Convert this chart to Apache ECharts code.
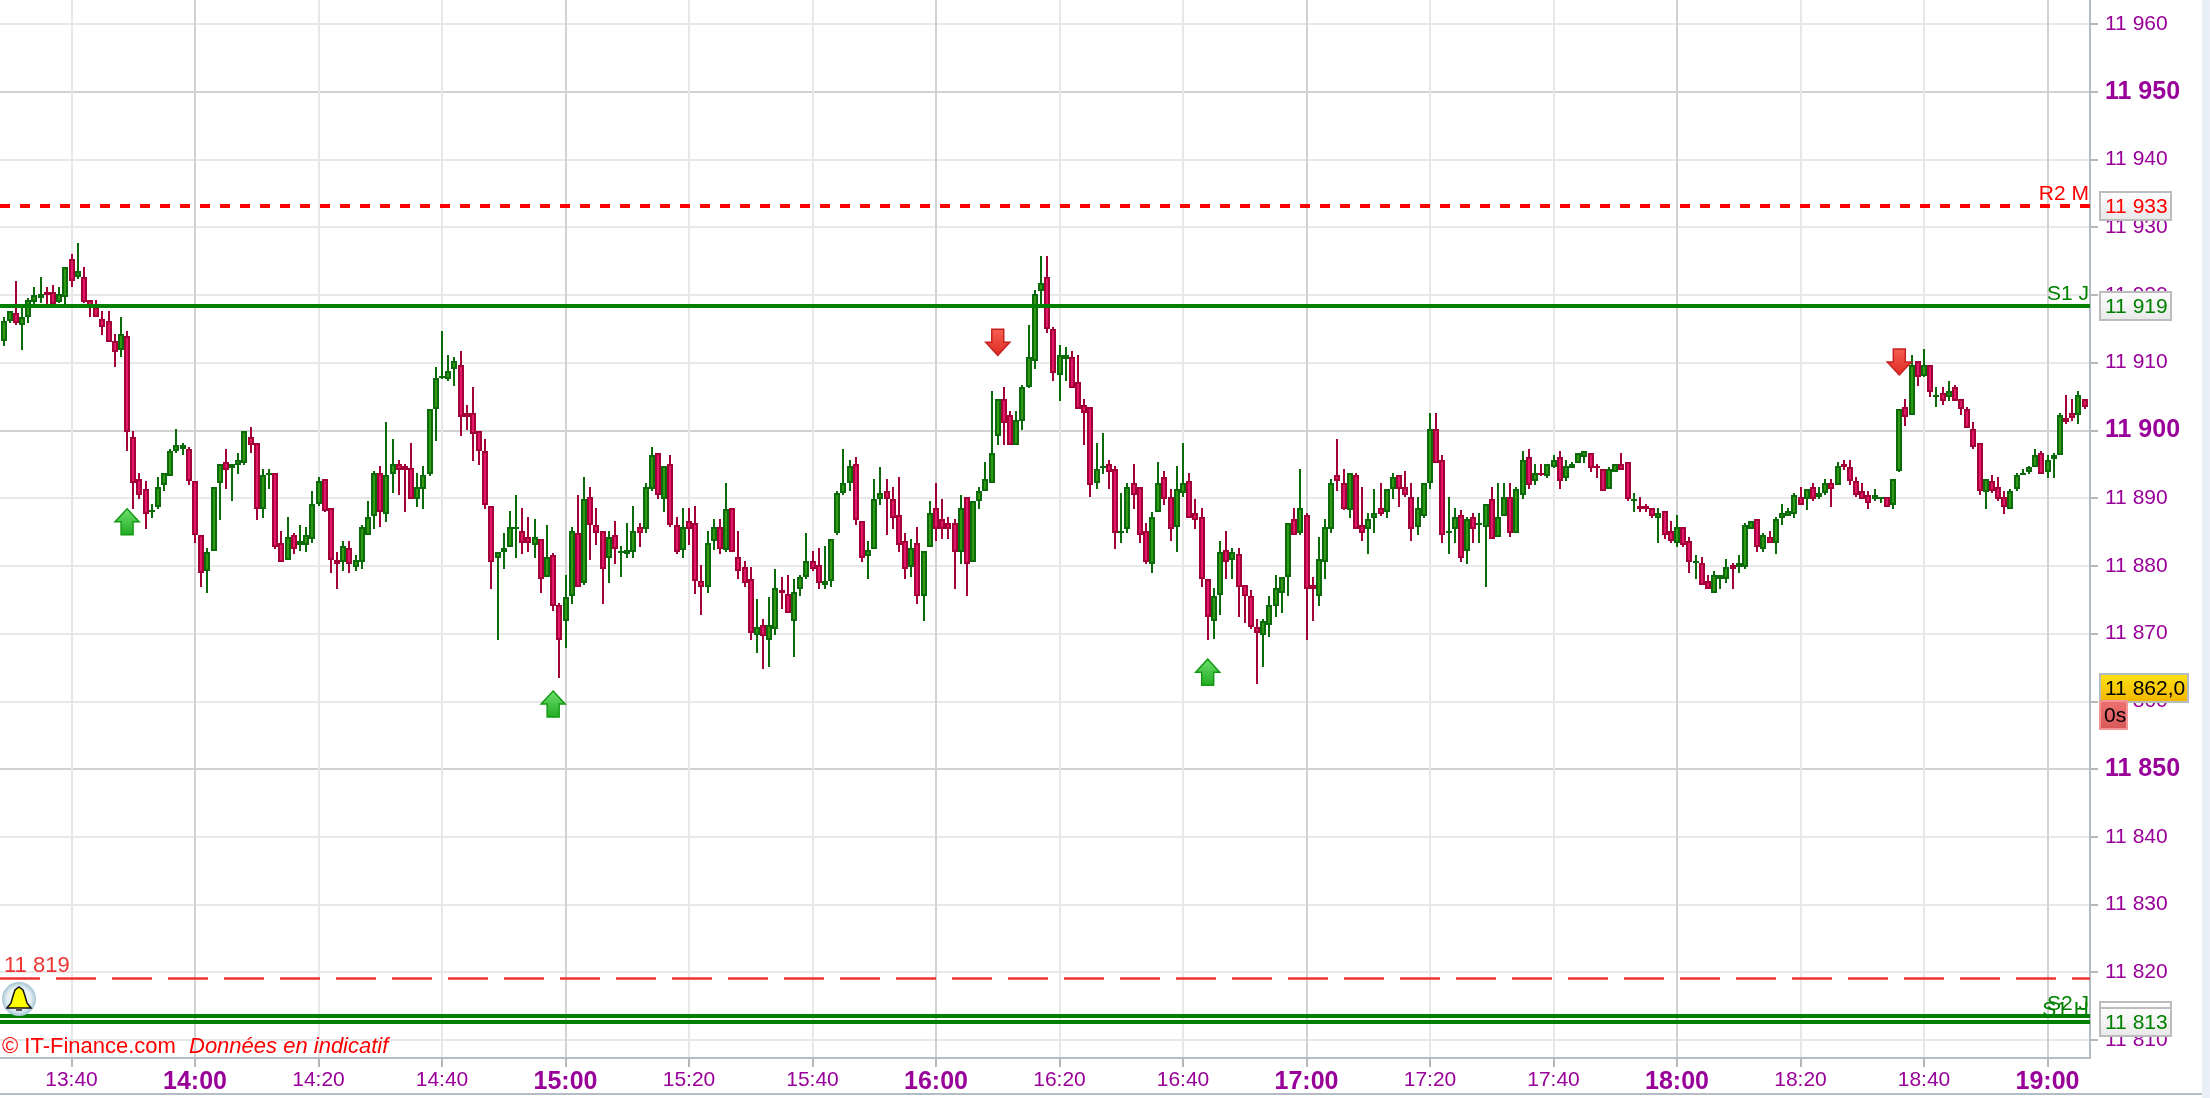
<!DOCTYPE html>
<html><head><meta charset="utf-8">
<style>html,body{margin:0;padding:0;background:#fff}#c{width:2210px;height:1098px}</style>
<script src="https://cdn.jsdelivr.net/npm/echarts@6/dist/echarts.min.js"></script>
</head><body><div id="c"></div>
<script>
const firstCandle = '13:29';
const timeTicks = ['13:40','14:00','14:20','14:40','15:00','15:20','15:40','16:00','16:20','16:40','17:00','17:20','17:40','18:00','18:20','18:40','19:00'];
const priceTicks = [11810,11820,11830,11840,11850,11860,11870,11880,11890,11900,11910,11920,11930,11940,11950,11960];
// one row per minute: open, close, low, high
const candles = [
[11913.2,11916.1,11912.4,11916.7],[11916.1,11917.6,11915.9,11917.6],[11917.3,11915.8,11915.6,11922],[11915.6,11916.7,11911.8,11918.2],[11916.8,11919.3,11915.9,11919.6],[11918.9,11920,11918,11921.1],[11919.5,11920.2,11918.8,11922.6],[11920.5,11920,11918,11921.1],[11920.5,11918.7,11918.5,11921.4],[11918.9,11920.2,11918.8,11921.1],
[11919.7,11924.1,11918.6,11924.1],[11925.3,11922.1,11921.2,11926.1],[11922.7,11923.5,11922.4,11927.6],[11922.6,11918.9,11918.8,11924.1],[11919.3,11918.2,11916.8,11919.3],[11918.2,11916.8,11916.8,11919.3],[11916.4,11915.3,11914.1,11917.6],[11916.1,11913,11913,11917.6],[11913.2,11911.5,11909.4,11914.3],[11911.8,11914.3,11910.9,11916.7],
[11914,11899.7,11897,11914.6],[11899,11892.3,11888.4,11899.9],[11892.8,11890.5,11889.9,11893.7],[11891.3,11887.6,11885.5,11892.5],[11887.9,11888.3,11887,11889.2],[11888.7,11891.6,11888.4,11893.1],[11892,11893.7,11891.1,11893.7],[11893.2,11896.9,11893.2,11897.2],[11897,11897.8,11896.7,11900.2],[11897.3,11897.8,11896.4,11898.1],
[11897.2,11892.6,11892,11897.5],[11892.5,11884.6,11883.4,11892.5],[11884.5,11879,11876.9,11884.5],[11879.3,11882.1,11876,11882.7],[11882.2,11891.6,11882.2,11891.6],[11892.3,11895.1,11886.7,11895.1],[11895.4,11894.1,11891.4,11897.2],[11894.4,11895.1,11889.6,11895.1],[11894.9,11895.7,11893.5,11896.6],[11895.2,11899.9,11894.9,11899.9],
[11899,11897.9,11896.7,11900.5],[11898.1,11888.4,11886.7,11898.1],[11888.4,11893.4,11887,11894.3],[11893.4,11893.7,11891.4,11894.3],[11893.7,11882.8,11882.5,11893.7],[11883.3,11880.5,11880.5,11885.1],[11880.8,11884.2,11880.8,11887.2],[11884.5,11882.5,11881.7,11884.8],[11883.1,11883.6,11882.2,11886],[11883.1,11884.5,11882,11885.7],
[11884,11889.2,11883.4,11891],[11889.2,11892.5,11888.9,11893.1],[11892.8,11888.1,11887.9,11892.8],[11888.6,11880.8,11879,11888.6],[11880.8,11880.2,11876.6,11882.1],[11880.5,11883,11879.3,11883.6],[11882.7,11880.2,11879,11883.6],[11879.9,11880.8,11879.3,11881.6],[11880.5,11885.7,11879.6,11886],[11884.6,11887.2,11884.6,11889.5],
[11887.3,11893.7,11885.5,11894],[11893.7,11887.9,11885.8,11894.8],[11887.6,11893.4,11886.4,11901.3],[11893.5,11895.1,11890.8,11898.7],[11895.1,11894.1,11890.5,11895.7],[11894.8,11894.1,11887.9,11895.1],[11894.5,11889.9,11889.9,11898.1],[11889.9,11891.6,11888.7,11893.7],[11891.4,11893.4,11888.4,11894.8],[11893.5,11903.1,11893.2,11903.1],
[11903.2,11907.8,11898.5,11909.3],[11907.8,11908.1,11907.6,11914.6],[11907.6,11908.7,11907.3,11911.1],[11909.1,11910.2,11906.5,11910.8],[11909.6,11902,11899.1,11911.7],[11902.5,11902,11900,11903.7],[11902.5,11899.4,11895.5,11906.4],[11899.9,11897,11894.9,11899.9],[11896.9,11889,11888.4,11898.7],[11888.9,11880.5,11876.6,11888.9],[11881.1,11882.1,11869,11882.1],
[11882,11882.7,11879.6,11884.8],[11882.8,11885.7,11882.8,11888.1],[11885.5,11885.7,11881.1,11890.4],[11885.1,11883.4,11881.7,11888.6],[11884.2,11883.4,11882,11887.2],[11883.1,11884.2,11881.1,11886.9],[11883.9,11878.1,11876,11883.9],[11878.4,11881.3,11878.4,11886],[11881.6,11874,11873.4,11881.9],[11874.2,11869,11863.4,11874.5],
[11871.9,11875.4,11867.8,11878.6],[11875.5,11885.1,11874.3,11885.7],[11884.8,11876.9,11876.9,11890.4],[11877.5,11889.8,11877.2,11893.1],[11890.1,11886.1,11880.8,11891.6],[11886,11884.9,11883.1,11888.6],[11885.1,11879.6,11874.3,11885.1],[11881.1,11884.2,11877.5,11885.1],[11884.5,11882.5,11880.2,11886.6],[11882,11882.2,11878.4,11883],
[11881.7,11882.4,11881.1,11886.3],[11882,11885.1,11881.1,11888.9],[11885.7,11884.9,11882.8,11886.3],[11885.5,11891.6,11884.9,11892.2],[11891.4,11896.3,11891.1,11897.5],[11896.6,11890.5,11889.9,11896.6],[11889.9,11894.8,11887.9,11894.8],[11895.1,11886.1,11885.8,11896.3],[11886,11882,11881.7,11887.2],[11882.3,11885.7,11881.1,11888.6],
[11886.6,11885.5,11883.1,11888.6],[11886.3,11877.8,11875.8,11888.9],[11877.7,11876.9,11872.8,11880.1],[11876.9,11883.3,11876,11885.1],[11883.7,11885.7,11882.3,11886.9],[11885.7,11882.5,11881.7,11886.9],[11882.3,11888.4,11882,11892.2],[11888.6,11882,11882,11888.6],[11881.3,11879.3,11878.1,11885.1],[11879.8,11877.5,11876.9,11880.7],
[11878,11870.1,11869,11879.8],[11869.8,11870.9,11867.2,11875.1],[11871.2,11869.6,11864.8,11872.1],[11869,11871.2,11865.1,11875.4],[11870.7,11876.8,11869.8,11879.5],[11876.5,11876,11873.7,11878.3],[11875.9,11873.1,11873.1,11878.6],[11871.9,11876.2,11866.6,11878],[11876.6,11878.3,11875.5,11878.6],[11878.4,11880.7,11878.1,11884.8],
[11880.7,11879.6,11879.3,11882.2],[11880.1,11877.5,11876.6,11882.7],[11877.2,11877.7,11876.6,11883],[11877.8,11883.9,11876.9,11883.9],[11884.9,11890.7,11884.6,11891],[11890.8,11892.2,11890.5,11897.2],[11892.3,11894.8,11891.1,11895.7],[11895.1,11886.7,11886.1,11896],[11886.6,11881.1,11880.5,11886.6],[11881.4,11882.4,11878.1,11883.6],
[11882.5,11889.8,11882.5,11892.8],[11889.9,11890.7,11889,11894.6],[11891,11889.9,11884.6,11892.8],[11889.8,11887,11885.5,11891.6],[11887.5,11883.1,11882,11893.1],[11883.6,11879.6,11878.1,11884.8],[11879.9,11882.7,11878.4,11883.9],[11883.3,11875.5,11874.3,11885.7],[11875.5,11882.2,11871.9,11882.2],[11882.8,11887.8,11882.8,11889.5],
[11888.6,11885.5,11883.7,11892.2],[11886.9,11885.5,11884,11889.8],[11886.3,11885.5,11884,11887.2],[11886.3,11882,11876.6,11886.9],[11882,11888.6,11880.2,11890.4],[11890.1,11880.2,11875.5,11890.1],[11880.5,11889.5,11880.5,11889.5],[11889.6,11891,11888.4,11891.6],[11891.1,11892.8,11891.1,11895.4],[11892.3,11896.6,11892.3,11905.8],[11899.1,11904.6,11897.9,11904.6],
[11904.6,11901.1,11897.9,11906.4],[11902.2,11897.9,11897.9,11902.8],[11897.9,11901.6,11897.9,11902.8],[11901.4,11906.4,11900.1,11906.7],[11906.4,11910.8,11906.2,11915.5],[11910.3,11920.2,11909.1,11920.8],[11920.6,11921.7,11918,11925.8],[11922.6,11915,11914.4,11925.8],[11914.9,11908.5,11907.3,11915.2],[11908.2,11911.1,11904.4,11912.6],
[11910.6,11911.1,11907.3,11912.3],[11910.8,11906.2,11906.2,11911.7],[11907.2,11903.2,11903.2,11911.1],[11903.7,11902.6,11897.9,11904.6],[11903.4,11892,11890.2,11903.4],[11892.3,11894.3,11891.4,11898.1],[11894.4,11894.8,11893.5,11899.6],[11895.1,11893.8,11891.4,11895.7],[11894.3,11884.9,11882.5,11894.8],[11884.9,11885.1,11883.4,11890.7],
[11885.5,11891.6,11884.9,11892.2],[11892.2,11890.5,11888.4,11895.1],[11891.6,11884.6,11883.4,11891.6],[11885.1,11880.5,11880.2,11886.3],[11880.2,11887.2,11879,11888],[11887.9,11892.2,11887.9,11895.4],[11893.1,11889.9,11889,11894],[11890.1,11885.5,11883.7,11891.3],[11885.8,11891.3,11882,11894.8],[11890.8,11892.2,11890.2,11898.1],
[11892.5,11887,11887,11893.7],[11887.8,11886.7,11885.5,11889.8],[11887.2,11878.1,11876.9,11888.6],[11878,11872.5,11869,11878],[11871.9,11875.6,11869.2,11876.8],[11875.7,11882.1,11872.8,11883.6],[11882.4,11880.5,11878.1,11885.1],[11880.8,11882.1,11878.1,11882.7],[11881.8,11876.9,11872.5,11882.7],[11877.1,11875.5,11871.6,11877.1],
[11875.6,11871,11870.7,11876.5],[11870.9,11870.1,11862.5,11872.1],[11869.8,11871.8,11865.1,11872.1],[11871.3,11874.2,11869.5,11875.6],[11874,11876.8,11872.5,11878.6],[11876,11878.3,11873.1,11878.3],[11878.4,11886.3,11875.5,11886.3],[11886.9,11884.6,11884.6,11888.6],[11884.8,11888.6,11884.5,11894.3],[11887.5,11876.6,11869,11887.8],
[11877.1,11876.6,11871.9,11878.3],[11875.5,11881,11874,11884.2],[11880.5,11885.7,11878.1,11886.9],[11885.5,11892.2,11884.9,11892.8],[11893.4,11892.6,11891.1,11898.7],[11892.2,11888.4,11888.2,11894.3],[11888.2,11893.7,11887,11893.7],[11893.4,11885.5,11885.5,11893.7],[11886,11884.9,11883.7,11891.6],[11885.5,11886.9,11881.7,11887.8],
[11887,11887.8,11884.9,11891.3],[11888.6,11887.6,11887.3,11892.2],[11887.9,11891.3,11887,11891.3],[11891.4,11893.1,11889.9,11893.7],[11893.4,11891.4,11888.7,11893.4],[11891.6,11890.5,11890.2,11894],[11890.1,11885.5,11883.7,11892.2],[11885.8,11888.6,11884.6,11890.1],[11887.3,11892.2,11887,11892.2],[11892.3,11900.2,11891.4,11902.5],
[11900.2,11895.2,11895.2,11902.5],[11895.7,11884.6,11883.4,11896.3],[11884.9,11885.1,11881.7,11890.1],[11885.5,11887.2,11883.4,11888.6],[11887.5,11881.1,11880.5,11888.3],[11882.2,11886.9,11880.2,11887.2],[11887.2,11885.5,11883.4,11887.8],[11886.1,11886.3,11883.4,11887.8],[11885.8,11889.2,11876.9,11889.2],[11889.8,11884,11884,11891.6],[11884.3,11887.2,11884.3,11892.2],
[11887.3,11890.1,11887.3,11892.2],[11890.1,11884.9,11884.3,11892.2],[11884.9,11891.3,11884.9,11891.6],[11890.5,11895.7,11889.9,11896.9],[11896,11892,11891.4,11897.2],[11892.6,11893.7,11892,11895.1],[11893.7,11893.5,11893.2,11895.1],[11893.2,11895.1,11892.9,11895.1],[11894.6,11895.7,11894.4,11896.3],[11896,11892.6,11891.4,11896.9],
[11892.9,11894.8,11892.6,11895.7],[11894.4,11895.1,11894.4,11895.4],[11895.2,11896.6,11895.2,11896.6],[11896.1,11896.9,11895.2,11896.9],[11896.6,11894.4,11893.8,11896.6],[11894.8,11894.4,11892.9,11895.1],[11894.3,11891.1,11891.1,11894.3],[11891.4,11894.3,11891.4,11894.6],[11893.8,11895.1,11893.8,11895.1],[11895.1,11894.1,11894.1,11896.6],
[11895.4,11889.8,11889.6,11895.4],[11889.6,11889.8,11887.9,11890.7],[11888.9,11888.4,11887.9,11890.1],[11888.9,11888.4,11887.9,11889.2],[11888.6,11887.3,11887,11888.6],[11887,11887.8,11883.4,11888.6],[11888.1,11884.6,11884,11888.1],[11885.1,11883.7,11883.4,11886.6],[11883.4,11885.7,11882.8,11887.5],[11885.7,11883.1,11882.8,11885.7],
[11883.6,11880.5,11879,11884.2],[11880.5,11880.7,11878.1,11881.6],[11880.4,11877.2,11877.2,11881.3],[11877.7,11876.6,11876.6,11878.6],[11876,11878.6,11876,11879.2],[11878.1,11878.6,11876.6,11878.6],[11878.1,11879.8,11877.5,11881],[11880.1,11879.6,11876.6,11880.4],[11879.9,11880.4,11879,11881.6],[11879.9,11886,11879.6,11886.3],
[11885.5,11886.6,11885.5,11886.6],[11886.9,11882.8,11882,11886.9],[11882.5,11884.5,11882,11884.8],[11884.2,11883.4,11883.4,11885.1],[11883.4,11886.9,11881.7,11887.2],[11887,11887.8,11886.1,11889.2],[11887.3,11888.1,11887.3,11888.6],[11887.6,11890.4,11887,11890.7],[11890.1,11889,11889,11891.6],[11889.9,11891.3,11888.2,11891.3],
[11891.6,11889.8,11889.6,11892.2],[11890.2,11890.7,11889.9,11891.6],[11890.8,11892.2,11890.5,11892.8],[11892.2,11891.4,11888.7,11892.8],[11892,11894.8,11892,11895.4],[11895.1,11894.6,11894.1,11895.7],[11894.6,11892.6,11892,11895.7],[11892.5,11890.5,11890.2,11893.1],[11891,11889.9,11889.9,11892.2],[11890.4,11889.3,11888.4,11891],
[11889.9,11890.4,11889.6,11891.3],[11889.9,11890.1,11889.3,11890.1],[11890.1,11888.7,11888.7,11890.1],[11889,11892.8,11888.4,11892.8],
[11894,11903.1,11893.8,11903.1],[11903.4,11902,11900.6,11904.6],[11902.3,11909.6,11902.3,11911.1],[11910.2,11907.9,11906.5,11910.2],[11908.1,11909.6,11907.9,11912],[11909.6,11905.6,11905,11909.6],[11904.9,11905.2,11903.5,11906.4],[11905.5,11904.4,11903.8,11906.4],[11905,11905.8,11904.4,11907.3],[11906.4,11904.4,11904.4,11906.7],
[11904.6,11903.2,11902.3,11904.6],[11903.1,11900.3,11900.3,11903.4],[11900.2,11897.5,11897.3,11901.3],[11898.1,11891,11890.5,11898.1],[11890.9,11892.8,11888.4,11892.8],[11892.5,11891,11890.8,11893.4],[11891.6,11889.8,11889.6,11893.1],[11890.1,11888.7,11887.6,11891],[11888.4,11891,11888.4,11891.3],[11891.4,11893.4,11891.1,11893.7],
[11893.5,11893.7,11893.5,11894.3],[11893.8,11894.6,11893.5,11894.8],[11894.6,11896.3,11894.6,11897.2],[11896.6,11893.5,11893.5,11896.9],[11893.8,11895.7,11892.9,11896.3],[11895.8,11896.3,11892.9,11896.6],[11896.4,11902.2,11896.4,11902.5],[11901.9,11901.3,11900.9,11905.2],[11902.5,11901.9,11901.4,11904.6],[11902.3,11905.2,11900.9,11905.8],[11904.6,11903.5,11903.2,11904.6]
];
const buySignalTimes = ['13:49','14:58','16:44'];
const buySignalPrices = [11886.5,11859.6,11864.3];
const sellSignalTimes = ['16:10','18:36'];
const sellSignalPrices = [11913,11910.1];
const levelNames = ['R2 M','S1 J','S2 J','S1 H'];
const levelValues = [11933.1,11918.4,11813.6,11812.7];
const levelBoxes = ['11 933','11 919','11 814','11 813'];
const alertValue = 11819.1;
const alertText = '11 819';
const lastPrice = 11862;
const lastPriceText = '11 862,0';
const countdownText = '0s';

const toMin = s => { const p = s.split(':'); return +p[0] * 60 + +p[1]; };
const font = '"Liberation Sans", Arial, sans-serif';
const PURPLE = '#990099', RED = '#ff0000', GREEN = '#008000', ALERT = '#ee3333';
const xMin = toMin('13:40') - 71.5 / 6.175, xMax = toMin('13:40') + (2090 - 71.5) / 6.175;
const yMax = 11960 + 24 / 6.773, yMin = 11960 - (1058 - 24) / 6.773;
const start = toMin(firstCandle);
const levelStyle = (v, name, color, width, type, extra) => Object.assign({
  yAxis: v, name: name,
  lineStyle: { color: color, width: width, type: type, opacity: 1 },
  label: { show: true, position: 'insideEndTop', formatter: '{b}', color: color, fontSize: 21, fontFamily: font, distance: 1, padding: [0, 0, 0, 0] }
}, extra || {});
const arrowUp = 'path://M12 0 L24 13 L18 13 L18 26 L6 26 L6 13 L0 13 Z';
const arrowDown = 'path://M12 26 L24 13 L18 13 L18 0 L6 0 L6 13 L0 13 Z';
const vgrad = (a, b) => new echarts.graphic.LinearGradient(0, 0, 0, 1, [{ offset: 0, color: a }, { offset: 1, color: b }]);

// Candle drawn crisply from the axes' own scales: wick, dark outer body, bright inner column.
function renderCandle(params, api) {
  const t = api.value(0), o = api.value(1), c = api.value(2), l = api.value(3), h = api.value(4);
  const cx = Math.round(api.coord([t, o])[0]);
  const yO = api.coord([t, o])[1], yC = api.coord([t, c])[1];
  const yL = Math.round(api.coord([t, l])[1]), yH = Math.round(api.coord([t, h])[1]);
  const up = c >= o;
  const dark = up ? '#0b6b0b' : '#a30038', light = up ? '#2f9a12' : '#e5176d';
  const top = Math.round(Math.min(yO, yC));
  const bot = Math.max(Math.round(Math.max(yO, yC)), top + 2);
  const children = [
    { type: 'rect', shape: { x: cx - 1, y: yH, width: 2, height: Math.max(yL - yH, 2) }, style: { fill: dark } },
    { type: 'rect', shape: { x: cx - 3, y: top, width: 6, height: bot - top }, style: { fill: dark } }
  ];
  if (bot - top > 4) children.push({ type: 'rect', shape: { x: cx - 1, y: top + 2, width: 2, height: bot - top - 4 }, style: { fill: light } });
  return { type: 'group', children: children };
}

const chart = echarts.init(document.getElementById('c'), null, { renderer: 'canvas' });
chart.setOption({
  animation: false,
  backgroundColor: '#ffffff',
  grid: { left: 0, top: 0, right: 120, bottom: 40, containLabel: false },
  xAxis: {
    type: 'value', min: xMin, max: xMax, splitNumber: 17,
    axisLine: { onZero: false, lineStyle: { color: '#b4bcc4', width: 2 } },
    axisTick: { length: 9, lineStyle: { color: '#b8b8b8', width: 2 }, customValues: timeTicks.map(toMin) },
    axisLabel: {
      customValues: timeTicks.map(toMin), margin: 12, hideOverlap: false,
      formatter: v => {
        const h = Math.floor(v / 60), m = v % 60, s = h + ':' + String(m).padStart(2, '0');
        return m === 0 ? '{b|' + s + '}' : '{n|' + s + '}';
      },
      rich: {
        n: { color: PURPLE, fontSize: 21, fontFamily: font },
        b: { color: PURPLE, fontSize: 25, fontWeight: 'bold', fontFamily: font }
      }
    },
    splitLine: { show: true, lineStyle: { color: ['#e8e8e8', '#d2d2d2', '#e8e8e8'], width: 2 } }
  },
  yAxis: {
    type: 'value', position: 'right', min: yMin, max: yMax, splitNumber: 16, scale: true,
    axisLine: { show: true, onZero: false, lineStyle: { color: '#b4bcc4', width: 2 } },
    axisTick: { show: true, length: 8, lineStyle: { color: '#b8b8b8', width: 2 }, customValues: priceTicks },
    axisLabel: {
      customValues: priceTicks, margin: 15, hideOverlap: false,
      formatter: v => {
        const s = String(v).slice(0, 2) + ' ' + String(v).slice(2);
        return v % 50 === 0 ? '{b|' + s + '}' : '{n|' + s + '}';
      },
      rich: {
        n: { color: PURPLE, fontSize: 21, fontFamily: font },
        b: { color: PURPLE, fontSize: 25, fontWeight: 'bold', fontFamily: font }
      }
    },
    splitLine: { show: true, lineStyle: { color: ['#e8e8e8', '#e8e8e8', '#e8e8e8', '#e8e8e8', '#d2d2d2'], width: 2 } }
  },
  series: [
    {
      type: 'custom', name: 'DAX', coordinateSystem: 'cartesian2d', renderItem: renderCandle, silent: true,
      encode: { x: 0, y: [1, 2, 3, 4] },
      data: candles.map((c, i) => [start + i, c[0], c[1], c[2], c[3]]),
      markLine: {
        silent: true, symbol: 'none', animation: false, precision: 4,
        data: [
          levelStyle(levelValues[0], levelNames[0], RED, 4, [10, 10]),
          levelStyle(levelValues[1], levelNames[1], GREEN, 4, 'solid'),
          levelStyle(levelValues[2], levelNames[2], GREEN, 4, 'solid'),
          levelStyle(levelValues[3], levelNames[3], GREEN, 4, 'solid'),
          { yAxis: alertValue, name: alertText, lineStyle: { color: ALERT, width: 2.5, type: [40, 16], opacity: 1 },
            label: { show: true, position: 'insideStartTop', formatter: '{b}', color: ALERT, fontSize: 22, fontFamily: font, distance: 1, padding: [0, 0, 0, 3] } }
        ]
      }
    },
    {
      type: 'scatter', name: 'buy', z: 5, symbol: arrowUp, symbolSize: [24, 26],
      data: buySignalTimes.map((t, i) => [toMin(t), buySignalPrices[i]]),
      itemStyle: { color: vgrad('#70e070', '#22aa22'), borderColor: '#119a11', borderWidth: 1.5, opacity: 1 }
    },
    {
      type: 'scatter', name: 'sell', z: 5, symbol: arrowDown, symbolSize: [24, 26],
      data: sellSignalTimes.map((t, i) => [toMin(t), sellSignalPrices[i]]),
      itemStyle: { color: vgrad('#f86050', '#dd2a22'), borderColor: '#c42020', borderWidth: 1.5, opacity: 1 }
    }
  ]
});

const py = v => chart.convertToPixel({ yAxisIndex: 0 }, v);
const box = (yc, text, color, w, fill, stroke, z) => ({
  type: 'group', children: [
    { type: 'rect', z: z, shape: { x: 2100, y: Math.round(yc) - 14, width: w, height: 28 }, style: { fill: fill, stroke: stroke, lineWidth: 2 } },
    { type: 'text', z: z + 1, style: { x: 2105, y: Math.round(yc) + 1, text: text, fill: color, font: '21px ' + font, verticalAlign: 'middle' } }
  ]
});
const boxFill = () => vgrad('#ffffff', '#e8e8e8');
const lastY = py(lastPrice);
chart.setOption({
  graphic: [
    { type: 'rect', z: 40, shape: { x: 2202, y: 0, width: 8, height: 1098 }, style: { fill: '#e8eff6' } },
    { type: 'rect', z: 40, shape: { x: 0, y: 1093, width: 2202, height: 2 }, style: { fill: '#b4bcc4' } },
    box(py(levelValues[0]), levelBoxes[0], RED, 71, boxFill(), '#bcbcbc', 50),
    box(py(levelValues[1]), levelBoxes[1], GREEN, 71, boxFill(), '#bcbcbc', 50),
    box(py(levelValues[2]), levelBoxes[2], GREEN, 71, boxFill(), '#bcbcbc', 50),
    box(py(levelValues[3]), levelBoxes[3], GREEN, 71, boxFill(), '#bcbcbc', 52),
    box(lastY, lastPriceText, '#000000', 88, vgrad('#ffe314', '#f2b400'), '#b4bcc4', 50),
    { type: 'rect', z: 54, shape: { x: 2100, y: Math.round(lastY) + 13, width: 27, height: 28 }, style: { fill: vgrad('#ee7070', '#d85858'), stroke: '#f09494', lineWidth: 2 } },
    { type: 'text', z: 55, style: { x: 2104, y: Math.round(lastY) + 28, text: countdownText, fill: '#000', font: '21px ' + font, verticalAlign: 'middle' } },
    { type: 'text', z: 40, style: { x: 2, y: 1047, text: '© IT-Finance.com', fill: RED, font: '22px ' + font, verticalAlign: 'middle' } },
    { type: 'text', z: 40, style: { x: 189, y: 1047, text: 'Données en indicatif', fill: RED, font: 'italic 22px ' + font, verticalAlign: 'middle' } },
    { type: 'circle', z: 40, shape: { cx: 19, cy: 999, r: 17 }, style: { fill: new echarts.graphic.RadialGradient(0.5, 0.5, 0.5, [{ offset: 0, color: '#ffffff' }, { offset: 0.7, color: '#e4eff4' }, { offset: 1, color: '#a4c4d4' }]) } },
    { type: 'polygon', z: 41, shape: { points: [[7, 1008], [11, 1003], [13, 996], [15, 990], [19, 987], [23, 990], [25, 996], [27, 1003], [31, 1008]] }, style: { fill: '#ffff00', stroke: '#111', lineWidth: 1.5 } },
    { type: 'rect', z: 41, shape: { x: 16, y: 1008, width: 6, height: 3 }, style: { fill: '#555' } }
  ]
});
</script></body></html>
